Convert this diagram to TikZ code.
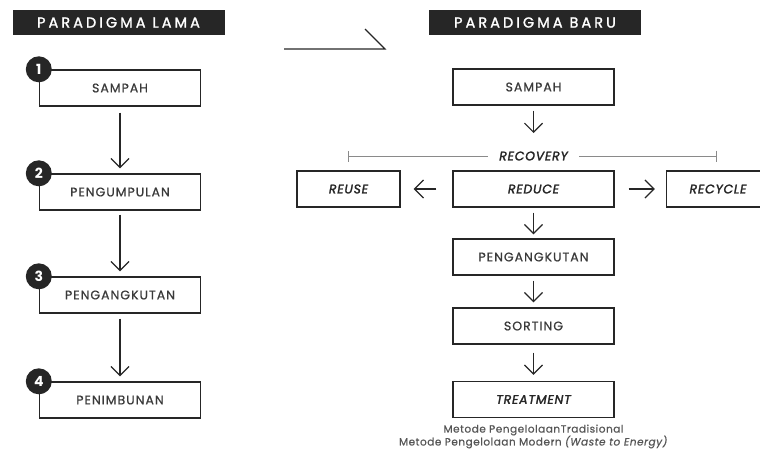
\documentclass[tikz,border=0pt]{standalone}
\usepackage{fontspec}
\setmainfont{Poppins}
\newfontfamily\boxfont[LetterSpace=8, FakeBold=0.8]{Poppins}
\newfontfamily\itfont[LetterSpace=6, FakeBold=2]{Poppins}
\newfontfamily\titlefont[LetterSpace=21, FakeBold=1.5]{Poppins}
\newfontfamily\notefont[LetterSpace=5, FakeBold=0.6]{Poppins}
\usetikzlibrary{positioning,arrows.meta}
\definecolor{inkc}{HTML}{262626}
\definecolor{textc}{HTML}{3A3A3A}
\definecolor{rulec}{HTML}{8A8A8A}
\definecolor{notec}{HTML}{555555}
\tikzset{
  flowarrow/.style={-{Straight Barb[length=9pt,width=18pt]}, line width=1.2pt, draw=inkc},
  stepbox/.style={draw=inkc, line width=1.4pt, minimum width=161pt, minimum height=36pt, inner sep=0pt, text=textc, font=\boxfont\fontsize{12.5}{14}\selectfont},
  stepbox2/.style={stepbox, text=inkc, font=\itfont\fontsize{12.5}{14}\selectfont\itshape},
  titlebox/.style={fill=inkc, text=white, minimum width=212pt, minimum height=25pt, inner sep=0pt, font=\titlefont\fontsize{14.5}{16}\selectfont},
  numdot/.style={circle, fill=inkc, text=white, minimum size=26pt, inner sep=0pt, font=\bfseries\fontsize{14}{14}\selectfont},
  rangeline/.style={draw=rulec, line width=0.9pt, {Bar[width=11pt]}-},
  notetext/.style={text=notec, font=\notefont\fontsize{10.5}{12}\selectfont, inner sep=0pt}
}

\begin{document}
\begin{tikzpicture}[x=1pt, y=-1pt]
  \useasboundingbox (0,0) rectangle (760,451);

  % paradigma lama
  \node[titlebox] (lama) at (118.5,22.5) {PARADIGMA LAMA};
  \node[stepbox] (l1) at (120,88) {SAMPAH};
  \node[stepbox] (l2) at (120,192) {PENGUMPULAN};
  \node[stepbox] (l3) at (120,295) {PENGANGKUTAN};
  \node[stepbox] (l4) at (120,400) {PENIMBUNAN};
  \foreach \i in {1,...,4}
    \node[numdot] (n\i) at (l\i.north west) {\i};
  \draw[flowarrow, shorten <=6pt, shorten >=5pt] (l1) -- (l2);
  \draw[flowarrow, shorten <=4pt, shorten >=5pt] (l2) -- (l3);
  \draw[flowarrow, shorten <=5pt, shorten >=5pt] (l3) -- (l4);

  % switch arrow
  \coordinate (swL) at (284,49);
  \coordinate (swR) at (385,49);
  \draw[line width=1.2pt, draw=inkc] (swL) -- (swR) -- ++(-20,-20);

  % paradigma baru
  \node[titlebox] (baru) at (535,22.5) {PARADIGMA BARU};
  \node[stepbox] (r1) at (533.5,87) {SAMPAH};
  \coordinate (r1end) at (533.5,133);
  \draw[flowarrow, shorten <=5pt] (r1) -- (r1end);

  \node[text=inkc, font=\itfont\fontsize{12.5}{14}\selectfont\itshape, inner xsep=11pt] (recov) at (533.5,156) {RECOVERY};
  \coordinate (recL) at (348,156);
  \coordinate (recR) at (717,156);
  \draw[rangeline] (recL) -- (recov);
  \draw[rangeline] (recR) -- (recov);

  \node[stepbox2] (reduce) at (533.5,189) {REDUCE};
  \node[stepbox2, minimum width=103pt] (reuse) at (348.5,189) {REUSE};
  \node[stepbox2, minimum width=103pt] (recycle) at (718,189) {RECYCLE};
  \draw[flowarrow, shorten <=16pt, shorten >=13pt] (reduce.west) -- (reuse.east);
  \draw[flowarrow, shorten <=14pt, shorten >=11pt] (reduce.east) -- (recycle.west);

  \node[stepbox] (r2) at (533.5,257) {PENGANGKUTAN};
  \node[stepbox] (r3) at (533.5,326) {SORTING};
  \node[stepbox2] (r4) at (533.5,399.5) {TREATMENT};
  \draw[flowarrow, shorten <=5pt, shorten >=4pt] (reduce) -- (r2);
  \draw[flowarrow, shorten <=5pt, shorten >=5pt] (r2) -- (r3);
  \draw[flowarrow, shorten <=8pt, shorten >=6pt] (r3) -- (r4);

  \node[notetext] (note1) at (533.5,430) {Metode PengelolaanTradisional};
  \node[notetext] (note2) at (533.5,442) {Metode Pengelolaan Modern \textit{(Waste to Energy)}};
\end{tikzpicture}
\end{document}
